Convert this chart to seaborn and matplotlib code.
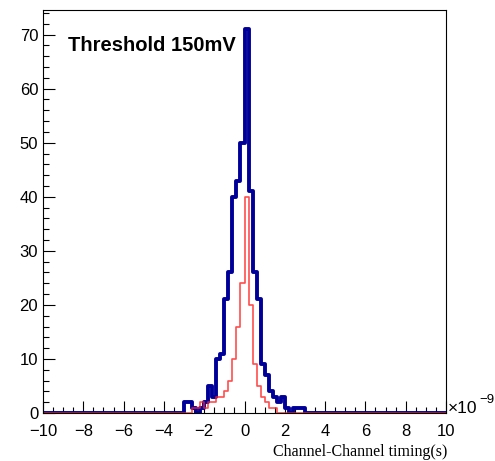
import numpy as np
import pandas as pd
import matplotlib
matplotlib.use("Agg")
import matplotlib.pyplot as plt
from matplotlib.ticker import MultipleLocator
import seaborn as sns

# Histogram binning: 100 bins over [-10, 10] (units of 1e-9 s)
x_min, x_max, n_bins = -10.0, 10.0, 100

# Left edges of the populated bins (1e-9 s) and their entries
bin_left = [-3.0, -2.8, -2.6, -2.4, -2.2, -2.0, -1.8, -1.6, -1.4, -1.2,
            -1.0, -0.8, -0.6, -0.4, -0.2, 0.0, 0.2, 0.4, 0.6, 0.8,
            1.0, 1.2, 1.4, 1.6, 1.8, 2.0, 2.2, 2.4, 2.6, 2.8]
blue_counts = [2, 2, 1, 0, 1, 2, 5, 3, 10, 11,
               21, 26, 40, 43, 50, 71, 41, 26, 21, 9,
               7, 4, 3, 2, 3, 1, 0, 1, 1, 1]
red_counts = [0, 0, 1, 1, 2, 1, 2, 2, 3, 3,
              4, 6, 10, 16, 24, 40, 20, 9, 5, 3,
              2, 1, 1, 0, 0, 0, 0, 0, 0, 0]

title_text = "Threshold 150mV"
x_title = "Channel-Channel timing(s)"
y_ticks = [0, 10, 20, 30, 40, 50, 60, 70]
x_ticks = [-10, -8, -6, -4, -2, 0, 2, 4, 6, 8, 10]

edges = np.linspace(x_min, x_max, n_bins + 1)
width = edges[1] - edges[0]
centers = np.asarray(bin_left) + width / 2
df = pd.DataFrame({"t": centers, "blue": blue_counts, "red": red_counts})
bin_edges = edges.tolist()

sns.set_theme(style="ticks")
plt.rcParams["font.family"] = ["Liberation Sans", "DejaVu Sans"]
plt.rcParams["text.color"] = "black"

fig = plt.figure(figsize=(4.95, 4.61), dpi=100)
ax = fig.add_axes([0.0869, 0.1041, 0.8141, 0.8742])

sns.histplot(data=df, x="t", weights="blue", bins=bin_edges, element="step",
             fill=False, color="#000099", linewidth=2.8, ax=ax)
sns.histplot(data=df, x="t", weights="red", bins=bin_edges, element="step",
             fill=False, color="#ff2020", linewidth=1.2, alpha=0.8, ax=ax)

ax.set_xlim(x_min, x_max)
ax.set_ylim(0, 74.55)
ax.set_xlabel("")
ax.set_ylabel("")
ax.set_xticks(x_ticks)
ax.set_yticks(y_ticks)
ax.xaxis.set_minor_locator(MultipleLocator(0.5))
ax.yaxis.set_minor_locator(MultipleLocator(2))
ax.tick_params(which="both", direction="in", top=False, right=False,
               width=0.8, color="black", labelcolor="black", labelsize=12)
ax.tick_params(which="major", length=8.7)
ax.tick_params(which="minor", length=4.3)
ax.tick_params(axis="x", which="major", pad=8)
ax.tick_params(axis="y", which="major", pad=3.5)
for s in ax.spines.values():
    s.set_visible(True)
    s.set_color("black")
    s.set_linewidth(0.8)
ax.grid(False)

ax.text(0.062, 0.898, title_text, transform=ax.transAxes, fontsize=14.5,
        fontweight="bold", color="black", ha="left", va="baseline")

# Exponent of the time axis
fig.text(448 / 495, (461 - 413) / 461, "\u00d710", fontsize=12.5,
         color="black", ha="left", va="baseline")
fig.text(479 / 495, (461 - 403) / 461, "\u22129", fontsize=9.5,
         color="black", ha="left", va="baseline")

fig.text(447 / 495, (461 - 456) / 461, x_title, fontsize=11.5,
         family=["Liberation Serif", "DejaVu Serif"], color="black",
         ha="right", va="baseline")

fig.savefig("out.png", dpi=100)
